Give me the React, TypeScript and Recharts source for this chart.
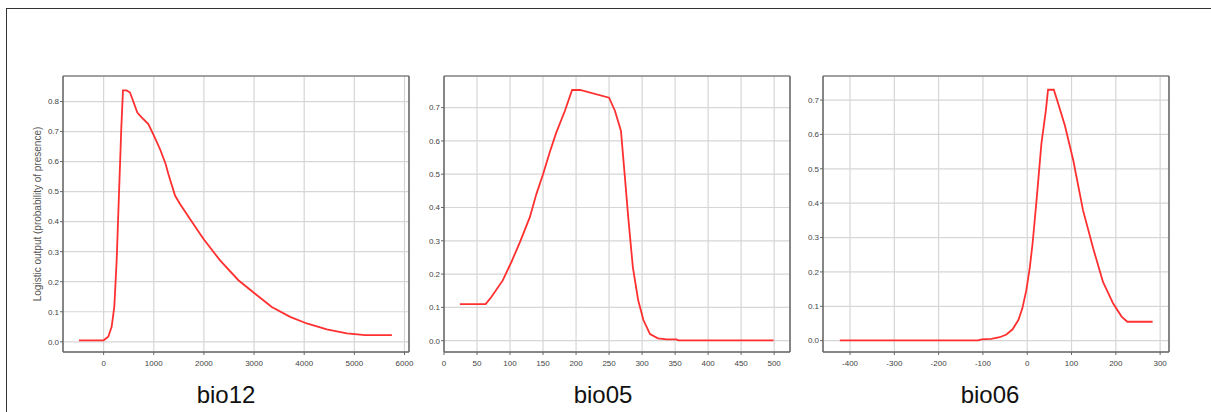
import React from "react";
import { LineChart, Line, XAxis, YAxis, CartesianGrid, ReferenceLine } from "recharts";

const bio12X = [-492, 0, 93, 160, 213, 260, 306, 353, 386, 459, 526, 592, 672, 758, 892, 1005, 1124, 1237, 1291, 1424, 1524, 1723, 1989, 2322, 2688, 3021, 3354, 3720, 4052, 4451, 4851, 5217, 5749];
const bio12Y = [0.005, 0.005, 0.017, 0.05, 0.116, 0.27, 0.49, 0.713, 0.837, 0.837, 0.83, 0.8, 0.763, 0.747, 0.725, 0.686, 0.642, 0.592, 0.559, 0.487, 0.459, 0.409, 0.343, 0.271, 0.205, 0.16, 0.116, 0.083, 0.061, 0.041, 0.028, 0.022, 0.022];

const bio05X = [24, 63, 72, 89, 102, 115, 130, 140, 150, 160, 170, 183, 194, 206, 250, 259, 268, 274, 279, 286, 294, 302, 312, 324, 337, 352, 355, 499];
const bio05Y = [0.11, 0.11, 0.132, 0.181, 0.236, 0.296, 0.371, 0.441, 0.5, 0.565, 0.625, 0.69, 0.753, 0.753, 0.73, 0.69, 0.63, 0.49, 0.371, 0.221, 0.122, 0.062, 0.02, 0.007, 0.004, 0.004, 0.001, 0.001];

const bio06X = [-423, -111, -103, -81, -62, -47, -33, -20, -11, -2, 6, 12, 21, 32, 42, 47, 60, 70, 85, 104, 126, 149, 171, 194, 213, 226, 283];
const bio06Y = [0.001, 0.001, 0.004, 0.005, 0.01, 0.018, 0.033, 0.06, 0.094, 0.147, 0.215, 0.282, 0.408, 0.573, 0.669, 0.73, 0.73, 0.689, 0.626, 0.524, 0.379, 0.268, 0.171, 0.108, 0.07, 0.055, 0.055];

const bio12Ticks = [0, 1000, 2000, 3000, 4000, 5000, 6000];
const bio05Ticks = [0, 50, 100, 150, 200, 250, 300, 350, 400, 450, 500];
const bio06Ticks = [-400, -300, -200, -100, 0, 100, 200, 300];
const yTicks8 = [0, 0.1, 0.2, 0.3, 0.4, 0.5, 0.6, 0.7, 0.8];
const yTicks7 = [0, 0.1, 0.2, 0.3, 0.4, 0.5, 0.6, 0.7];

const titles = ["bio12", "bio05", "bio06"];
const yLabel = "Logistic output (probability of presence)";

const toRows = (xs: number[], ys: number[]) => xs.map((x, i) => ({ x, y: ys[i] }));

const tickStyle = { fontSize: 8, fill: "#444", fontFamily: "Liberation Sans, Arial, sans-serif" };

type PanelProps = {
  left: number;
  width: number;
  yWidth: number;
  marginLeft: number;
  marginRight: number;
  xs: number[];
  ys: number[];
  xDomain: [number, number];
  yDomain: [number, number];
  xTicks: number[];
  yTicks: number[];
  withLabel?: boolean;
};

function Panel(p: PanelProps) {
  const data = toRows(p.xs, p.ys);
  return (
    <div style={{ position: "absolute", left: p.left, top: 0 }}>
      <LineChart
        width={p.width}
        height={412}
        data={data}
        margin={{ top: 76, right: p.marginRight, bottom: 40, left: p.marginLeft }}
      >
        <CartesianGrid stroke="#d6d6d6" strokeWidth={1.2} />
        <XAxis
          dataKey="x"
          type="number"
          domain={p.xDomain}
          ticks={p.xTicks}
          allowDataOverflow
          height={20}
          tick={tickStyle}
          tickSize={3}
          tickMargin={5}
          stroke="#666"
          axisLine={{ stroke: "#666", strokeWidth: 1.5 }}
          tickLine={{ stroke: "#666" }}
          interval={0}
        />
        <YAxis
          type="number"
          domain={p.yDomain}
          ticks={p.yTicks}
          allowDataOverflow
          width={p.yWidth}
          tick={tickStyle}
          tickSize={3}
          tickMargin={1}
          axisLine={{ stroke: "#666", strokeWidth: 1.5 }}
          tickLine={{ stroke: "#666" }}
          tickFormatter={(v: number) => v.toFixed(1)}
          interval={0}
          label={
            p.withLabel
              ? {
                  value: yLabel,
                  angle: -90,
                  position: "insideLeft",
                  offset: 4,
                  style: { fontSize: 10, fill: "#555", fontFamily: "Liberation Sans, Arial, sans-serif", textAnchor: "middle" },
                }
              : undefined
          }
        />
        <ReferenceLine y={p.yDomain[1]} stroke="#888" strokeWidth={1.5} />
        <ReferenceLine x={p.xDomain[1]} stroke="#666" strokeWidth={1.5} />
        <Line
          type="linear"
          dataKey="y"
          stroke="#ff3030"
          strokeWidth={1.8}
          dot={false}
          isAnimationActive={false}
        />
      </LineChart>
    </div>
  );
}

export default function App() {
  const titleStyle: React.CSSProperties = {
    position: "absolute",
    top: 381,
    width: 120,
    textAlign: "center",
    fontSize: 24,
    fontFamily: "Liberation Sans, Arial, sans-serif",
    color: "#111",
    lineHeight: "28px",
  };
  return (
    <div style={{ position: "absolute", left: 0, top: 0, width: 1211, height: 412, overflow: "hidden", background: "#fff" }}>
      <div style={{ position: "absolute", left: 6, top: 8, width: 1300, height: 500, border: "1.5px solid #333" }} />
      <Panel left={0} width={420} yWidth={30} marginLeft={33} marginRight={11} xs={bio12X} ys={bio12Y} xDomain={[-810, 6090]} yDomain={[-0.034, 0.885]} xTicks={bio12Ticks} yTicks={yTicks8} withLabel />
      <Panel left={420} width={380} yWidth={24} marginLeft={0} marginRight={10} xs={bio05X} ys={bio05Y} xDomain={[0, 524]} yDomain={[-0.034, 0.795]} xTicks={bio05Ticks} yTicks={yTicks7} />
      <Panel left={800} width={411} yWidth={23} marginLeft={0} marginRight={42} xs={bio06X} ys={bio06Y} xDomain={[-461, 320]} yDomain={[-0.033, 0.77]} xTicks={bio06Ticks} yTicks={yTicks7} />
      <div style={{ ...titleStyle, left: 226 - 60 }}>{titles[0]}</div>
      <div style={{ ...titleStyle, left: 603 - 60 }}>{titles[1]}</div>
      <div style={{ ...titleStyle, left: 990 - 60 }}>{titles[2]}</div>
    </div>
  );
}
